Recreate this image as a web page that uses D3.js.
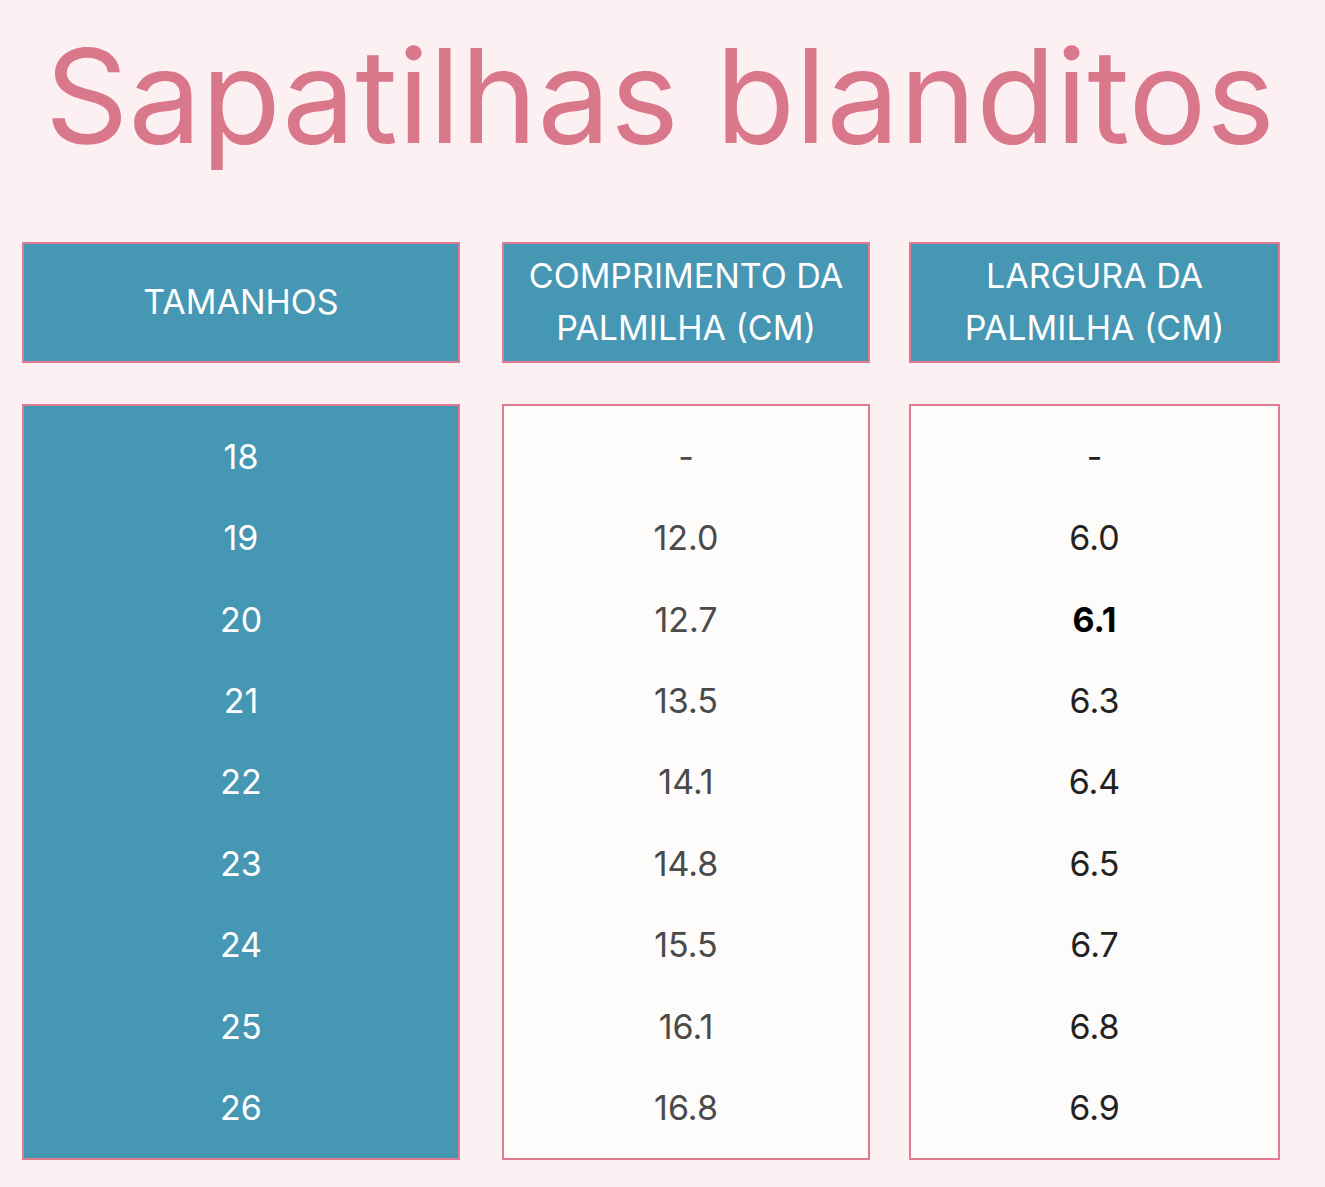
<!DOCTYPE html>
<html><head><meta charset="utf-8">
<script src="https://cdn.jsdelivr.net/npm/d3@7/dist/d3.min.js"></script>
<style>body{margin:0;background:#fcf0f2}</style></head>
<body><script>
const title = "Sapatilhas blanditos";
const headers = ["TAMANHOS", "COMPRIMENTO DA|PALMILHA (CM)", "LARGURA DA|PALMILHA (CM)"];
const sizes = ["18","19","20","21","22","23","24","25","26"];
const lengths = ["-","12.0","12.7","13.5","14.1","14.8","15.5","16.1","16.8"];
const widths = ["-","6.0","6.1","6.3","6.4","6.5","6.7","6.8","6.9"];
const boldWidth = "6.1";

const W=1325,H=1187;
const svg=d3.select("body").append("svg").attr("width",W).attr("height",H);
svg.append("rect").attr("width",W).attr("height",H).attr("fill","#fcf0f2");
const t=svg.append("text").attr("x",660).attr("y",143).attr("text-anchor","middle")
 .attr("font-family","Inter, 'Open Sans', sans-serif").attr("font-size",128).attr("fill","#d9778b").text(title);
const len=t.node().getComputedTextLength();
t.attr("font-size",128*1230/len);

const cols=[{x0:23,x1:459},{x0:503,x1:869},{x0:910,x1:1279}];
const teal="#4697b3", pink="#de7b90";
cols.forEach((c,i)=>{
  svg.append("rect").attr("x",c.x0).attr("y",243).attr("width",c.x1-c.x0).attr("height",119)
   .attr("fill",teal).attr("stroke",pink).attr("stroke-width",2);
  const lines=headers[i].split("|");
  const cx=(c.x0+c.x1)/2;
  lines.forEach((l,j)=>{
    svg.append("text").attr("x",cx).attr("y",lines.length==1?314:288+j*52)
     .attr("text-anchor","middle").attr("font-family","Inter, 'Open Sans', sans-serif")
     .attr("font-size",34).attr("fill","#fff").text(l);
  });
  svg.append("rect").attr("x",c.x0).attr("y",405).attr("width",c.x1-c.x0).attr("height",754)
   .attr("fill",i==0?teal:"#fefbfb").attr("stroke",pink).attr("stroke-width",2);
});
const y=d3.scalePoint().domain(sizes).range([457,1108]);
const colData=[sizes,lengths,widths];
colData.forEach((arr,i)=>{
  const cx=(cols[i].x0+cols[i].x1)/2;
  svg.selectAll(null).data(arr).join("text")
   .attr("x",cx).attr("y",(d,k)=>y(sizes[k])).attr("dy","0.35em")
   .attr("text-anchor","middle").attr("font-family","Inter, 'Open Sans', sans-serif")
   .attr("font-size",34)
   .attr("font-weight",d=>i==2&&d===boldWidth?"bold":"normal")
   .attr("fill",d=>i==0?"#fff":i==1?"#4a4a4a":(d===boldWidth?"#000":"#222"))
   .text(d=>d);
});
</script></body></html>
